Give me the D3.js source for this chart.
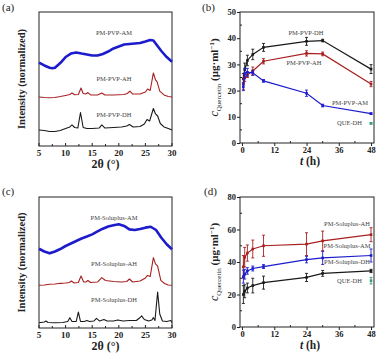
<!DOCTYPE html>
<html>
<head>
<meta charset="utf-8">
<script src="https://cdn.jsdelivr.net/npm/d3@7/dist/d3.min.js"></script>
<style>
  html, body { margin: 0; padding: 0; background: #fff; }
  svg { display: block; }
  text { font-family: "Liberation Serif", "Times New Roman", serif; }
</style>
</head>
<body>
<svg id="chart" width="377" height="353"></svg>
<script>
(function () {
  "use strict";

  // ---- XRD patterns: [2theta, normalized intensity] ----
  const PVP_AM = [[5,62.2],[6,60.1],[7,58.4],[7.5,58.0],[8,58.4],[9,61.9],[10,66.4],[11,69.0],[12,69.8],[13,69.0],[14,68.3],[15,67.5],[16,67.5],[17,68.7],[18,70.5],[19,72.8],[20,74.3],[21,75.7],[22,76.1],[23,76.5],[24,76.9],[25,78.0],[25.9,79.1],[26.5,78.7],[27,76.1],[28,70.9],[29,66.4],[30,62.9]];
  const PVP_AH = [[5,36.6],[6,36.2],[7,36.0],[8,36.2],[9,36.9],[10,37.7],[10.8,38.4],[11.2,39.6],[11.7,38.2],[12.4,38.4],[12.9,43.3],[13.3,39.2],[13.8,38.8],[14.2,39.9],[14.7,38.1],[16,38.1],[16.8,39.6],[17.4,38.1],[19,38.1],[21,38.4],[21.6,39.2],[22.1,41.0],[22.6,38.8],[24,38.8],[25,40.3],[25.4,42.5],[25.9,41.4],[26.5,54.5],[26.9,49.3],[27.2,47.8],[27.7,41.0],[28.5,38.1],[29.3,36.9],[30,36.6]];
  const PVP_DH = [[5,11.9],[6,11.6],[7,10.8],[8,10.8],[9,11.6],[10,13.1],[10.8,14.2],[11.2,15.7],[11.7,13.8],[12.3,13.4],[12.8,25.0],[13.3,13.8],[14,13.1],[15,13.1],[16.3,13.4],[16.8,15.7],[17.4,13.4],[19,13.8],[20.5,14.2],[21.5,14.9],[22,16.0],[22.7,14.2],[24,14.6],[24.8,16.4],[25.3,19.8],[25.8,18.7],[26.5,28.0],[26.9,23.9],[27.3,22.4],[27.8,16.8],[28.5,14.2],[29.3,13.1],[30,11.9]];

  const SOL_AM = [[5,60.5],[6,58.4],[7,57.0],[8,58.4],[9,60.3],[10,62.6],[11,64.5],[12,66.4],[13,68.3],[14,69.8],[15,71.5],[16,73.7],[17,75.8],[18,77.5],[19,78.4],[20,79.2],[21,77.9],[22,75.3],[23,74.8],[24,75.6],[25,76.6],[26,77.3],[27,74.8],[28,68.9],[29,63.9],[30,60.1]];
  const SOL_AH = [[5,32.6],[6,32.8],[7,33.4],[8,33.6],[9,34.1],[10,34.4],[10.7,34.7],[11.1,35.9],[11.6,34.4],[12.4,34.7],[12.9,39.7],[13.4,35.1],[13.8,35.1],[14.2,36.3],[14.7,34.7],[16,35.1],[16.8,38.5],[17.5,36.3],[19,35.5],[20.5,35.1],[21.5,35.5],[22,37.4],[22.6,35.1],[24,35.9],[25,38.2],[25.4,40.1],[25.9,39.3],[26.5,53.7],[26.9,48.9],[27.3,47.3],[27.9,36.3],[28.6,34.0],[29.3,32.8],[30,32.6]];
  const SOL_DH = [[5,4.0],[6,4.6],[6.3,5.3],[6.7,4.2],[8,4.0],[9.5,4.2],[10.4,5.0],[10.8,7.9],[11.2,5.0],[12,5.0],[12.4,12.2],[12.8,5.0],[13.5,5.0],[14,5.7],[14.5,5.0],[15.3,5.3],[15.8,7.3],[16.4,5.3],[17.2,6.5],[17.8,5.3],[19,5.3],[19.8,6.1],[20.8,5.3],[22,5.7],[23.3,5.7],[23.9,7.6],[24.3,9.2],[24.8,6.5],[25.6,5.3],[26.2,6.1],[26.5,7.9],[26.8,5.7],[27.3,27.5],[27.7,10.7],[28.2,5.3],[29,5.0],[29.8,5.7],[30,4.2]];

  // ---- dissolution profiles ----
  const TIMES = [0.5, 1, 2, 4, 8, 24, 30, 48];

  const PVP_DH_C = [24.5, 28, 31.5, 33.8, 36.5, 38.8, 39.1, 28.2];
  const PVP_DH_E = [2, 2.5, 2, 2, 1.5, 1.5, 0.5, 1.7];
  const PVP_AH_C = [22.5, 25, 26, 27.5, 31.2, 34.2, 34, 22.5];
  const PVP_AH_E = [2, 1.5, 1, 1.5, 1, 1, 0.7, 1];
  const PVP_AM_C = [21.5, 26.5, 27, 26.8, 23.7, 19, 14.3, 11.2];
  const PVP_AM_E = [1.5, 2, 1.5, 1, 0.5, 1.2, 0.5, 0.3];
  const QUE_B = [48, 7.5, 0.3];

  const SOL_AH_C = [37, 43, 45.5, 48, 50, 51, 53, 56.8];
  const SOL_AH_E = [7, 6, 5, 5.5, 6.5, 7, 6, 4.3];
  const SOL_AM_C = [31, 32.5, 34.5, 36, 37.2, 41.5, 42.5, 44];
  const SOL_AM_E = [4, 3, 2, 1.5, 1.2, 2, 4, 4];
  const SOL_DH_C = [20, 22, 24, 25.5, 27.3, 30.5, 33, 34.5];
  const SOL_DH_E = [5.5, 4, 3, 4.5, 4, 2.5, 1.8, 1];
  const QUE_D = [48, 28.5, 2];

  const XRD_TICKS = [5, 10, 15, 20, 25, 30];
  const T_TICKS = [0, 12, 24, 36, 48];

  const BLACK = "#1a1a1a", RED = "#a82020", BLUE = "#1c1ccc", TEAL = "#3c9a86";

  const svg = d3.select("#chart");

  function frame(x, y) {
    const [x0, x1] = x.range(), [y0, y1] = y.range();
    svg.append("rect")
      .attr("x", x0).attr("y", y1).attr("width", x1 - x0).attr("height", y0 - y1)
      .attr("fill", "none").attr("stroke", "#222").attr("stroke-width", 1);
  }

  function panelLetter(txt, px, py) {
    svg.append("text").attr("x", px).attr("y", py).attr("font-size", 11).attr("fill", "#222").text(txt);
  }

  function errBar(g, x, y, t, c, e) {
    g.append("line").attr("x1", x(t)).attr("x2", x(t)).attr("y1", y(c - e)).attr("y2", y(c + e));
    g.append("line").attr("x1", x(t) - 1.5).attr("x2", x(t) + 1.5).attr("y1", y(c - e)).attr("y2", y(c - e));
    g.append("line").attr("x1", x(t) - 1.5).attr("x2", x(t) + 1.5).attr("y1", y(c + e)).attr("y2", y(c + e));
  }

  function xrdPanel(top, bottom, series, labels) {
    const x = d3.scaleLinear().domain([5, 30]).range([39, 172]);
    const y = d3.scaleLinear().domain([0, 100]).range([bottom, top]);
    frame(x, y);

    const line = d3.line().x((d) => x(d[0])).y((d) => y(d[1]));
    series.forEach((s) => {
      svg.append("path").datum(s.data)
        .attr("d", line).attr("fill", "none")
        .attr("stroke", s.color).attr("stroke-width", s.w)
        .attr("stroke-linejoin", "round");
    });

    // minor + major ticks pointing inward
    d3.range(5, 30.01, 2.5).forEach((v) => {
      const major = v % 5 === 0;
      svg.append("line").attr("x1", x(v)).attr("x2", x(v))
        .attr("y1", bottom).attr("y2", bottom - (major ? 3 : 2))
        .attr("stroke", "#222").attr("stroke-width", 1);
    });
    XRD_TICKS.forEach((v) => {
      svg.append("text").attr("x", x(v)).attr("y", bottom + 10)
        .attr("text-anchor", "middle").attr("font-size", 9).attr("font-weight", "bold")
        .attr("fill", "#222").text(v);
    });
    svg.append("text").attr("x", (39 + 172) / 2).attr("y", bottom + 22)
      .attr("text-anchor", "middle").attr("font-size", 12).attr("font-weight", "bold")
      .attr("fill", "#222").text("2θ (°)");
    svg.append("text")
      .attr("transform", `translate(25,${(top + bottom) / 2}) rotate(-90)`)
      .attr("text-anchor", "middle").attr("font-size", 10.5).attr("font-weight", "bold")
      .attr("fill", "#222").text("Intensity (normalized)");

    labels.forEach((l) => {
      svg.append("text").attr("x", 114).attr("y", l[1])
        .attr("text-anchor", "middle").attr("font-size", 6.5).attr("fill", "#444").text(l[0]);
    });
  }

  function dissPanel(top, bottom, ymax, yStep, series, que, labels) {
    const x = d3.scaleLinear().domain([-0.75, 49.1]).range([240, 374]);
    const y = d3.scaleLinear().domain([0, ymax]).range([bottom, top]);
    frame(x, y);

    const xAxis = d3.axisBottom(x).tickValues(T_TICKS).tickSize(3).tickPadding(1);
    const gx = svg.append("g").attr("transform", `translate(0,${bottom})`).call(xAxis);
    const yAxis = d3.axisLeft(y).tickValues(d3.range(0, ymax + 0.1, yStep)).tickSize(3).tickPadding(1);
    const gy = svg.append("g").attr("transform", `translate(240,0)`).call(yAxis);
    [gx, gy].forEach((g) => {
      g.select(".domain").remove();
      g.selectAll("line").attr("stroke", "#222");
      g.selectAll("text").attr("font-family", "Liberation Serif").attr("font-size", 8.5)
        .attr("font-weight", "bold").attr("fill", "#222");
    });
    // inward minor ticks
    d3.range(6, 48, 12).forEach((v) => {
      svg.append("line").attr("x1", x(v)).attr("x2", x(v)).attr("y1", bottom).attr("y2", bottom - 2)
        .attr("stroke", "#222");
    });
    d3.range(yStep / 2, ymax, yStep).forEach((v) => {
      svg.append("line").attr("x1", 240).attr("x2", 242).attr("y1", y(v)).attr("y2", y(v))
        .attr("stroke", "#222");
    });

    const line = d3.line().x((d) => x(d.t)).y((d) => y(d.c));
    series.forEach((s) => {
      const pts = TIMES.map((t, i) => ({ t: t, c: s.c[i], e: s.e[i] }));
      svg.append("path").datum(pts).attr("d", line).attr("fill", "none")
        .attr("stroke", s.color).attr("stroke-width", 1.2);
      const g = svg.append("g").attr("stroke", s.color).attr("stroke-width", 0.9);
      pts.forEach((p) => errBar(g, x, y, p.t, p.c, p.e));
      svg.append("g").selectAll("rect").data(pts).join("rect")
        .attr("x", (d) => x(d.t) - 1.3).attr("y", (d) => y(d.c) - 1.3)
        .attr("width", 2.6).attr("height", 2.6).attr("fill", s.color);
    });

    // QUE-DH single point
    const qg = svg.append("g").attr("stroke", TEAL).attr("stroke-width", 0.9);
    errBar(qg, x, y, que[0], que[1], que[2]);
    svg.append("rect").attr("x", x(que[0]) - 1.3).attr("y", y(que[1]) - 1.3)
      .attr("width", 2.6).attr("height", 2.6).attr("fill", TEAL);

    labels.forEach((l) => {
      svg.append("text").attr("x", l[1]).attr("y", l[2])
        .attr("text-anchor", l[3] || "middle").attr("font-size", 6.5).attr("fill", "#444").text(l[0]);
    });

    // axis titles
    const xt = svg.append("text").attr("x", 310).attr("y", bottom + 22)
      .attr("text-anchor", "middle").attr("font-size", 11.5).attr("font-weight", "bold").attr("fill", "#222");
    xt.append("tspan").attr("font-style", "italic").text("t");
    xt.append("tspan").text(" (h)");

    const yt = svg.append("text")
      .attr("transform", `translate(218,${(top + bottom) / 2}) rotate(-90)`)
      .attr("text-anchor", "middle").attr("font-size", 11).attr("fill", "#222");
    yt.append("tspan").attr("font-style", "italic").attr("font-size", 12).text("c");
    yt.append("tspan").attr("font-size", 7).attr("dy", 3).text("Quercetin");
    yt.append("tspan").attr("font-weight", "bold").attr("dy", -3).text(" (μg·ml");
    yt.append("tspan").attr("font-weight", "bold").attr("font-size", 7).attr("dy", -4).text("−1");
    yt.append("tspan").attr("font-weight", "bold").attr("dy", 4).text(")");
  }

  // (a)
  xrdPanel(12, 146, [
    { data: PVP_AM, color: BLUE, w: 2.6 },
    { data: PVP_AH, color: RED, w: 1.1 },
    { data: PVP_DH, color: BLACK, w: 1.1 }
  ], [["PM-PVP-AM", 35], ["PM-PVP-AH", 81], ["PM-PVP-DH", 117]]);
  panelLetter("(a)", 2, 11);

  // (b)
  dissPanel(12, 143, 50, 10, [
    { c: PVP_DH_C, e: PVP_DH_E, color: BLACK },
    { c: PVP_AH_C, e: PVP_AH_E, color: RED },
    { c: PVP_AM_C, e: PVP_AM_E, color: BLUE }
  ], QUE_B, [["PM-PVP-DH", 306, 35], ["PM-PVP-AH", 304, 65], ["PM-PVP-AM", 350, 105], ["QUE-DH", 362, 125, "end"]]);
  panelLetter("(b)", 202, 11);

  // (c)
  xrdPanel(197, 328, [
    { data: SOL_AM, color: BLUE, w: 2.6 },
    { data: SOL_AH, color: RED, w: 1.1 },
    { data: SOL_DH, color: BLACK, w: 1.1 }
  ], [["PM-Soluplus-AM", 220], ["PM-Soluplus-AH", 266], ["PM-Soluplus-DH", 302]]);
  panelLetter("(c)", 2, 195);

  // (d)
  dissPanel(197, 327, 80, 20, [
    { c: SOL_AH_C, e: SOL_AH_E, color: RED },
    { c: SOL_AM_C, e: SOL_AM_E, color: BLUE },
    { c: SOL_DH_C, e: SOL_DH_E, color: BLACK }
  ], QUE_D, [["PM-Soluplus-AH", 347, 226], ["PM-Soluplus-AM", 347, 248], ["PM-Soluplus-DH", 347, 264], ["QUE-DH", 362, 283, "end"]]);
  panelLetter("(d)", 204, 195);
})();
</script>
</body>
</html>
